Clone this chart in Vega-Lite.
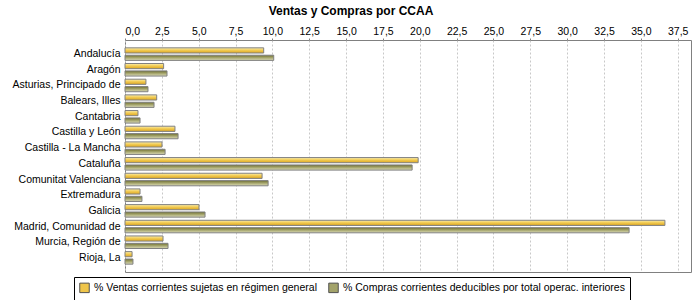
{
  "$schema": "https://vega.github.io/schema/vega-lite/v6.json",
  "autosize": {"type": "none"},
  "padding": {"left": 125, "top": 40, "right": 10, "bottom": 28},
  "width": 566,
  "height": 232,
  "background": "white",
  "title": {"text": "Ventas y Compras por CCAA", "font": "Liberation Sans", "fontSize": 12, "fontWeight": "bold", "color": "black", "anchor": "middle", "dx": -57, "offset": 8},
  "data": {"values": [
    {"ccaa": "Andalucía", "serie": "% Ventas corrientes sujetas en régimen general", "valor": 9.41},
    {"ccaa": "Andalucía", "serie": "% Compras corrientes deducibles por total operac. interiores", "valor": 10.09},
    {"ccaa": "Aragón", "serie": "% Ventas corrientes sujetas en régimen general", "valor": 2.62},
    {"ccaa": "Aragón", "serie": "% Compras corrientes deducibles por total operac. interiores", "valor": 2.85},
    {"ccaa": "Asturias, Principado de", "serie": "% Ventas corrientes sujetas en régimen general", "valor": 1.42},
    {"ccaa": "Asturias, Principado de", "serie": "% Compras corrientes deducibles por total operac. interiores", "valor": 1.56},
    {"ccaa": "Balears, Illes", "serie": "% Ventas corrientes sujetas en régimen general", "valor": 2.15},
    {"ccaa": "Balears, Illes", "serie": "% Compras corrientes deducibles por total operac. interiores", "valor": 1.97},
    {"ccaa": "Cantabria", "serie": "% Ventas corrientes sujetas en régimen general", "valor": 0.88},
    {"ccaa": "Cantabria", "serie": "% Compras corrientes deducibles por total operac. interiores", "valor": 1.02},
    {"ccaa": "Castilla y León", "serie": "% Ventas corrientes sujetas en régimen general", "valor": 3.39},
    {"ccaa": "Castilla y León", "serie": "% Compras corrientes deducibles por total operac. interiores", "valor": 3.6},
    {"ccaa": "Castilla - La Mancha", "serie": "% Ventas corrientes sujetas en régimen general", "valor": 2.51},
    {"ccaa": "Castilla - La Mancha", "serie": "% Compras corrientes deducibles por total operac. interiores", "valor": 2.72},
    {"ccaa": "Cataluña", "serie": "% Ventas corrientes sujetas en régimen general", "valor": 19.89},
    {"ccaa": "Cataluña", "serie": "% Compras corrientes deducibles por total operac. interiores", "valor": 19.48},
    {"ccaa": "Comunitat Valenciana", "serie": "% Ventas corrientes sujetas en régimen general", "valor": 9.3},
    {"ccaa": "Comunitat Valenciana", "serie": "% Compras corrientes deducibles por total operac. interiores", "valor": 9.71},
    {"ccaa": "Extremadura", "serie": "% Ventas corrientes sujetas en régimen general", "valor": 1.02},
    {"ccaa": "Extremadura", "serie": "% Compras corrientes deducibles por total operac. interiores", "valor": 1.15},
    {"ccaa": "Galicia", "serie": "% Ventas corrientes sujetas en régimen general", "valor": 5.02},
    {"ccaa": "Galicia", "serie": "% Compras corrientes deducibles por total operac. interiores", "valor": 5.43},
    {"ccaa": "Madrid, Comunidad de", "serie": "% Ventas corrientes sujetas en régimen general", "valor": 36.63},
    {"ccaa": "Madrid, Comunidad de", "serie": "% Compras corrientes deducibles por total operac. interiores", "valor": 34.2},
    {"ccaa": "Murcia, Región de", "serie": "% Ventas corrientes sujetas en régimen general", "valor": 2.58},
    {"ccaa": "Murcia, Región de", "serie": "% Compras corrientes deducibles por total operac. interiores", "valor": 2.92},
    {"ccaa": "Rioja, La", "serie": "% Ventas corrientes sujetas en régimen general", "valor": 0.48},
    {"ccaa": "Rioja, La", "serie": "% Compras corrientes deducibles por total operac. interiores", "valor": 0.54}
  ]},
  "encoding": {
    "y": {"field": "ccaa", "type": "nominal", "sort": null,
      "scale": {"paddingInner": 0.2, "paddingOuter": 0.5},
      "axis": {"title": null, "domain": false, "ticks": false, "labelPadding": 5, "labelFont": "Liberation Sans", "labelFontSize": 10.5, "labelColor": "black"}},
    "yOffset": {"field": "serie", "type": "nominal",
      "sort": ["% Ventas corrientes sujetas en régimen general", "% Compras corrientes deducibles por total operac. interiores"],
      "scale": {"paddingInner": 0.3}},
    "x": {"field": "valor", "type": "quantitative",
      "scale": {"domain": [0, 38.4], "nice": false, "zero": true},
      "axis": {"orient": "top", "title": null, "values": [0, 2.5, 5, 7.5, 10, 12.5, 15, 17.5, 20, 22.5, 25, 27.5, 30, 32.5, 35, 37.5],
        "labelExpr": "replace(format(datum.value, '.1f'), '.', ',')",
        "domain": false, "tickSize": 2, "tickColor": "#808080", "labelPadding": 2,
        "labelFont": "Liberation Sans", "labelFontSize": 10.5, "labelColor": "black",
        "grid": true, "gridColor": "#c8c8c8", "gridDash": [2, 2]}}
  },
  "layer": [
    {
      "transform": [{"filter": "datum.serie === '% Ventas corrientes sujetas en régimen general'"}],
      "mark": {"type": "bar", "strokeWidth": 1, "stroke": "#808080",
        "fill": {"gradient": "linear", "x1": 0, "y1": 0, "x2": 0, "y2": 1, "stops": [
          {"offset": 0, "color": "#fbeeb0"}, {"offset": 0.45, "color": "#f2cc55"}, {"offset": 1, "color": "#dca620"}]}}
    },
    {
      "transform": [{"filter": "datum.serie !== '% Ventas corrientes sujetas en régimen general'"}],
      "mark": {"type": "bar", "strokeWidth": 1, "stroke": "#808080",
        "fill": {"gradient": "linear", "x1": 0, "y1": 0, "x2": 0, "y2": 1, "stops": [
          {"offset": 0, "color": "#6f7030"}, {"offset": 0.5, "color": "#a8a870"}, {"offset": 1, "color": "#dcdcb8"}]}}
    },
    {
      "transform": [{"filter": "false"}],
      "mark": {"type": "square", "filled": true, "opacity": 1},
      "encoding": {
        "fill": {"field": "serie", "type": "nominal",
          "scale": {"domain": ["% Ventas corrientes sujetas en régimen general", "% Compras corrientes deducibles por total operac. interiores"], "range": ["#efc54a", "#a3a36a"]},
          "legend": {"title": null, "orient": "none", "legendX": -51, "legendY": 237, "direction": "horizontal",
            "strokeColor": "black", "padding": 5, "fillColor": "white", "labelLimit": 0,
            "symbolType": "square", "symbolSize": 90, "symbolStrokeWidth": 1, "symbolStrokeColor": "#505050",
            "labelFont": "Liberation Sans", "labelFontSize": 10.5, "labelColor": "black", "columnPadding": 9,
            "encode": {"symbols": {"update": {
              "fill": {"signal": "datum.index === 0 ? {id: 'legendGradYellow', gradient: 'linear', x1: 0, y1: 0, x2: 0, y2: 1, stops: [{offset: 0, color: '#fbeeb0'}, {offset: 0.5, color: '#f2cc55'}, {offset: 1, color: '#dca620'}]} : {id: 'legendGradGreen', gradient: 'linear', x1: 0, y1: 0, x2: 0, y2: 1, stops: [{offset: 0, color: '#6f7030'}, {offset: 0.5, color: '#a8a870'}, {offset: 1, color: '#dcdcb8'}]}"},
              "stroke": {"value": "#505050"}
            }}}}}
      }
    }
  ],
  "config": {"view": {"stroke": "#808080", "strokeWidth": 1}}
}
